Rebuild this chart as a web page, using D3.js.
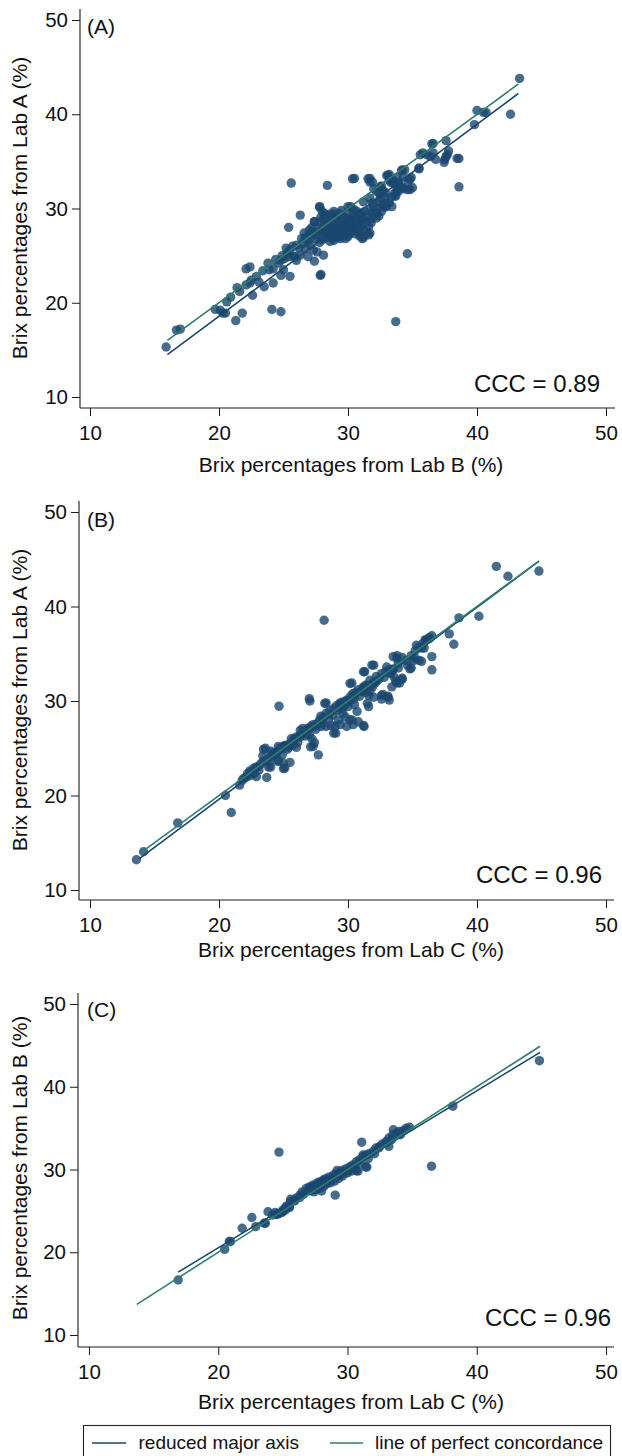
<!DOCTYPE html>
<html>
<head>
<meta charset="utf-8">
<script src="https://cdn.jsdelivr.net/npm/d3@7"></script>
<style>
  html, body { margin: 0; padding: 0; background: #fff; }
  svg { display: block; }
  text { font-family: "Liberation Sans", Arial, Helvetica, sans-serif; fill: #111; }
</style>
</head>
<body>
<svg id="chart" width="622" height="1456"></svg>
<script>
// ---------------- DATA ----------------
const tickValues = [10, 20, 30, 40, 50];
const panelLabels = ["(A)", "(B)", "(C)"];
const xTitles = ["Brix percentages from Lab B (%)", "Brix percentages from Lab C (%)", "Brix percentages from Lab C (%)"];
const yTitles = ["Brix percentages from Lab A (%)", "Brix percentages from Lab A (%)", "Brix percentages from Lab B (%)"];
const cccLabels = ["CCC = 0.89", "CCC = 0.96", "CCC = 0.96"];
const legendLabels = ["reduced major axis", "line of perfect concordance"];

// Panel A: x = Lab B, y = Lab A
const pointsA = [
[15.9,15.3],[16.7,17.1],[17.0,17.2],
[19.7,19.3],[20.1,19.2],[20.3,18.9],[20.5,18.9],
[21.3,18.1],[21.8,18.9],[20.9,20.6],[21.6,21.2],
[22.1,21.9],[22.4,22.1],[22.1,23.6],[22.4,23.8],
[22.6,20.8],[23.1,22.2],[23.5,21.7],[23.9,23.5],[24.2,23.6],[24.2,22.1],
[24.1,19.3],[24.8,19.05],[24.8,22.9],[25.5,22.8],
[24.6,24.2],[24.8,24.5],[25.1,24.7],[25.4,24.9],[25.5,25.6],[25.2,25.8],[25.8,24.9],[26.0,24.5],[25.0,23.5],
[25.4,28.0],[25.6,32.7],[26.3,29.3],
[26.8,27.0],[27.0,27.7],[27.4,28.6],[27.2,27.4],[26.9,26.5],
[27.3,25.6],[27.6,25.4],[27.4,24.4],[27.9,23.0],[27.8,30.2],
[28.0,29.7],[28.3,29.3],
[27.8,28.6],[28.2,28.2],[28.6,28.0],[28.9,28.2],[29.3,28.4],[29.7,28.6],[30.1,28.8],[30.5,29.1],[30.9,29.3],[31.3,29.7],[31.7,29.8],[32.0,30.2],
[28.0,27.4],[28.6,27.0],[28.9,26.6],[29.5,27.2],[29.9,27.4],[30.4,27.8],[30.8,27.6],[31.2,27.8],[31.6,28.1],
[28.6,28.8],[29.1,29.1],[29.5,29.3],[29.9,29.5],[28.9,29.7],[29.5,29.8],[30.2,30.2],
[28.7,27.7],[29.2,27.9],[29.6,27.7],[30.2,27.9],[30.7,28.2],
[31.2,26.9],[31.7,27.4],
[31.1,28.8],[31.4,28.6],[31.8,28.9],
[32.2,29.5],[32.6,29.7],[33.0,30.2],[33.2,30.6],[32.7,30.4],
[30.5,33.2],[31.7,33.2],[31.9,32.8],[32.5,32.3],[32.7,31.9],
[33.2,33.6],[33.5,33.0],[33.9,32.7],[34.0,32.3],[34.4,34.1],[34.7,32.9],[34.8,32.0],[33.9,31.8],[33.7,31.3],[32.2,31.8],[32.5,31.1],[31.2,30.7],[31.7,31.1],
[34.6,25.2],[33.7,18.0],
[43.3,43.8],[40.0,40.4],[40.5,40.2],[40.7,40.2],[42.6,40.0],[39.8,38.9],[37.6,37.2],[36.6,36.9],
[35.6,35.7],[35.8,35.9],[36.1,35.7],[36.4,35.5],[36.6,35.9],[36.8,35.2],[37.5,35.2],[37.8,36.1],[37.7,35.7],[38.6,35.3],[35.5,34.3],[34.2,34.1],[38.6,32.3],
[33.1,33.5],[33.8,33.3],[34.3,33.3],[34.8,33.1],[35.0,32.2],[34.3,32.1],[33.8,32.2],[33.3,32.8],[32.6,32.4],[32.9,31.7],[33.6,31.6],
[28.2,27.5],[28.5,27.3],[28.8,27.8],[29.0,27.4],[29.3,27.0],[29.6,27.6],[29.9,28.0],[30.2,28.4],[30.5,28.1],[28.4,28.5],[29.2,28.9],[29.8,29.0],[30.4,29.4],[30.0,27.0],[29.4,26.8],[28.7,26.9],[27.6,27.2],[27.9,27.7],[27.3,27.5],[27.1,26.9],[28.0,26.7],[30.8,28.7],[31.0,29.5],[29.1,28.1],[28.4,28.0],[29.7,28.3],[30.3,27.6],[31.2,28.9],[27.7,28.0],[28.9,29.4],
[26.0,26.1],[26.5,26.3],[26.2,25.8],[26.7,26.8],[25.9,24.85],[26.3,25.05],[26.7,25.75],[27.1,26.1],[26.9,24.9],[28.1,25.05],[27.85,22.9],
[28.15,29.45],[28.3,29.2],[28.4,32.45],[27.4,28.6],[27.8,30.15],
[30.0,30.2],[30.45,29.9],[31.1,26.8],[31.6,27.2],[31.55,33.15],[31.7,32.8],[32.0,32.1],[32.45,31.6],[32.0,29.45],[32.4,29.2],[32.8,30.15],[32.9,30.5],[33.4,30.2],[33.0,33.5],[33.2,33.0],[33.5,32.7],[33.6,31.4],[33.8,31.9],[34.2,32.3],[34.15,34.0],[34.6,32.0],[34.9,33.3],[35.5,34.2],[36.5,36.85],[37.45,34.9],[37.6,35.5],[38.45,35.3],[30.35,33.15],
[27.5,26.8],[27.8,26.4],[28.3,26.9],[28.6,26.5],[29.0,26.9],[29.3,27.5],[29.8,26.8],[30.1,27.3],[30.6,27.3],[30.9,27.1],[31.4,27.6],[31.0,28.2],[30.6,28.6],[30.0,28.6],[29.5,28.1],[29.0,28.4],[28.5,28.7],[28.1,28.9],[27.9,29.1],[28.6,29.4],[29.3,29.5],[30.7,29.7],[31.5,29.2],[31.9,29.6],[32.3,30.0],[29.1,27.0],[29.7,27.1],[28.3,27.8],[30.9,28.0],[31.8,28.5],[27.2,28.0],[26.6,27.4],[26.4,26.8],[25.7,26.0],[25.3,25.3],[24.9,25.0],[24.4,24.6],[23.8,24.2],[23.4,23.4],[22.9,22.8],[22.5,22.4],[21.4,21.6],[20.6,20.1],[32.4,30.8],[32.9,31.2],[33.3,31.1],[31.9,30.6],[32.2,29.0]
];
// Panel B: x = Lab C, y = Lab A
const pointsB = [
[13.6,13.2],[14.15,14.05],[16.8,17.1],[20.5,20.0],[20.95,18.2],
[21.6,21.1],[21.8,21.6],[22.1,21.9],[22.4,22.1],[22.7,22.3],[22.9,22.0],[22.5,22.5],[22.2,22.3],[21.9,21.8],
[23.45,24.9],[23.7,21.9],[23.85,23.0],[23.9,23.5],[24.15,24.3],[24.5,24.6],[24.55,23.6],[24.65,29.45],[25.0,22.85],
[24.6,25.2],[25.1,25.3],[25.4,25.1],[25.7,25.3],[26.0,25.1],
[25.85,26.0],[26.3,26.2],[26.6,26.6],[26.9,26.9],
[27.0,30.25],[27.2,26.0],[27.1,25.15],[27.7,24.3],[28.2,29.75],[28.15,38.55],
[28.9,26.6],[29.25,28.0],[29.8,28.3],[30.15,28.0],[30.4,27.5],[30.8,27.8],[31.2,27.4],[29.0,27.3],[29.4,27.5],[29.9,27.3],[30.3,28.0],[29.05,26.6],[30.7,28.9],[30.0,29.4],
[29.4,29.7],[29.9,30.0],[30.2,30.1],[30.5,30.3],
[31.0,31.0],[31.2,31.4],[31.5,31.6],[31.8,31.7],[32.0,32.0],[32.2,32.1],
[31.2,33.1],[30.15,31.85],[31.85,33.8],[31.25,27.3],[31.5,29.75],[32.6,30.6],[33.1,30.4],
[32.9,33.1],[33.2,33.3],[33.5,33.4],[33.5,34.7],[33.8,34.5],
[33.7,32.1],[34.0,31.9],[34.2,32.4],[34.8,33.4],[35.1,34.3],[35.5,34.3],
[35.2,35.3],[35.5,35.7],[35.8,36.1],[36.0,36.4],[36.3,36.7],[36.5,36.9],
[36.5,34.7],[36.5,33.3],[37.85,37.1],[38.2,36.0],[38.6,38.8],[40.15,38.97],[41.5,44.25],[42.4,43.2],[44.8,43.75],
[36.0,36.5],[35.3,35.9],[35.7,35.6],[36.3,36.6],[35.2,34.5],[35.7,34.2],[34.9,33.5],
[33.8,34.8],[34.2,34.6],[33.9,34.0],[33.5,33.3],[33.0,33.6],[33.3,32.9],[33.6,32.5],[34.2,32.3],[33.8,31.9],[33.4,31.5],[33.1,30.5],[32.7,30.7],
[32.0,33.8],[31.3,33.1],[30.3,31.9],[31.6,30.6],[32.0,30.4],[31.6,29.4],[32.6,30.2],[33.2,30.1],[27.05,30.0],[28.3,29.8],
[27.3,25.2],[27.4,25.6],[23.6,25.0],[24.0,24.7],[23.4,24.2],[22.9,23.0],[24.0,23.0],[25.1,22.9],[24.6,23.7],[25.0,23.4],[25.5,23.5],
[26.3,26.9],[26.5,27.1],[26.9,27.1],[27.4,27.3],[27.9,27.3],[28.3,27.3],[28.7,27.4],
[32.2,32.6],[32.6,32.9],[31.7,32.2],[32.1,31.9],[31.4,31.7],[31.2,31.5],[30.8,31.2],[30.4,30.8],[30.2,30.5],[29.9,30.1],[29.6,29.9],[29.4,29.8],[29.1,29.5],[28.9,29.2],[28.6,29.0],[28.3,28.7],[28.1,28.3],[27.8,28.0],[27.6,27.6],[27.3,27.5],[27.1,27.3],[26.8,26.9],[26.5,26.6],[26.3,26.4],[26.0,26.2],[25.8,25.9],[25.5,25.5],[25.2,25.3],[25.0,25.2],[24.7,25.0],[24.5,24.6],[24.2,24.5],[24.0,24.1],[23.7,23.8],[23.4,23.6],[23.2,23.3],[22.9,23.0],[22.7,22.9],
[29.2,29.0],[28.8,28.5],[30.6,30.9],[31.9,31.5],[27.9,28.4],[26.7,26.3],[25.6,26.0],[29.7,29.5],
[28.5,28.1],[29.5,29.2],[30.0,29.9],[30.9,30.5],[31.4,30.9],[32.4,32.3],[32.8,32.5],[33.3,33.0],[34.5,34.3],[34.9,34.8],[35.9,35.6],[27.5,27.0],[28.0,27.6],[26.1,25.6],[25.3,24.9],[23.1,22.7],[22.4,22.6],[29.6,28.7],[30.5,29.6],[31.7,31.0],[27.0,26.4],[24.9,24.3],[33.9,33.5],[34.6,33.8]
];
// Panel C: x = Lab C, y = Lab B
const pointsC = [
[16.9,16.65],[20.5,20.35],[20.95,21.3],[20.85,21.3],[21.85,22.9],[22.6,24.2],[22.9,23.1],[23.65,23.5],[23.55,23.5],[23.85,24.9],
[24.6,24.6],[24.9,24.8],[25.0,25.1],[25.2,25.4],[24.7,32.1],
[25.5,25.5],[25.6,26.4],[25.9,26.2],[26.3,26.6],
[24.2,24.5],[24.5,24.6],[24.7,24.7],[25.0,24.9],[25.2,25.1],[25.5,25.4],[25.6,26.1],[25.9,26.3],[26.3,26.9],[26.5,27.3],[26.8,27.7],[27.05,27.9],[27.3,28.1],[27.6,28.3],[27.8,28.5],[28.1,28.7],[28.3,28.9],[28.6,29.1],[28.9,29.3],[29.1,29.5],[29.4,29.7],[29.6,29.9],[29.9,30.1],[30.2,30.35],[30.4,30.55],[30.7,30.95],[30.9,31.15],[31.2,31.55],[31.45,31.75],[31.7,31.95],[32.0,32.2],[32.2,32.6],[32.5,32.8],[32.7,33.1],[33.0,33.4],[33.2,33.8],[33.5,34.2],[33.8,34.4],[34.0,34.6],[34.3,34.7],[34.55,35.0],[34.8,35.1],
[27.0,27.4],[27.3,27.5],[27.6,27.6],[27.9,27.8],[28.2,28.0],[27.4,27.3],[28.0,27.4],[27.7,28.0],[28.4,28.3],[28.7,28.4],[29.0,28.6],[29.3,28.9],[29.6,29.2],[30.0,29.6],[30.3,29.8],[30.6,30.1],[29.2,29.9],[28.5,28.8],
[29.05,26.9],[31.1,33.3],[31.5,30.3],[30.7,29.85],[31.2,31.75],[33.0,33.2],[33.2,32.8],[33.55,34.8],[32.4,32.6],[36.5,30.4],[38.15,37.65],[44.85,43.15],[31.4,30.3],[30.8,29.8],
[27.2,27.8],[27.5,28.0],[27.9,28.2],[28.3,28.4],[28.8,28.9],[29.4,29.3],[29.8,29.6],[30.1,29.9],[30.5,30.3],[31.0,30.8],[31.6,31.3],[32.1,31.9],[33.4,33.6],[34.1,34.2],[26.0,26.5],[26.6,27.0],[25.3,25.6],[24.4,24.8],[28.0,28.5],[29.5,29.5]
];

// Fitted lines: [[x0,y0],[x1,y1]]
const rmaA = [[16.0, 14.5], [43.2, 42.2]];
const pcA  = [[16.0, 16.0], [43.2, 43.2]];
const rmaB = [[13.8, 13.3], [44.8, 44.8]];
const pcB  = [[14.0, 14.0], [44.8, 44.8]];
const rmaC = [[16.9, 17.6], [44.9, 44.15]];
const pcC  = [[13.7, 13.7], [44.9, 44.9]];

// ---------------- LAYOUT ----------------
const colors = { point: "#1a476f", rma: "#1a476f", pc: "#2f7f6b", axis: "#1a1a1a" };
const panels = [
  { pts: pointsA, rma: rmaA, pc: pcA, x0: 90, x1: 606, y50: 20, y10: 397, axY: 408, axX: 80, top: 9, right: 615,
    titleY: 472, yTitleCy: 208, labelBase: 34, cccX: 600, cccY: 392 },
  { pts: pointsB, rma: rmaB, pc: pcB, x0: 90, x1: 606, y50: 512, y10: 890, axY: 900, axX: 79, top: 501, right: 614,
    titleY: 957, yTitleCy: 700, labelBase: 527, cccX: 602, cccY: 883 },
  { pts: pointsC, rma: rmaC, pc: pcC, x0: 89, x1: 606, y50: 1004, y10: 1335, axY: 1347, axX: 78, top: 993, right: 614,
    titleY: 1409, yTitleCy: 1168, labelBase: 1017, cccX: 611, cccY: 1326 }
];

const svg = d3.select("#chart");
const FONT = "Liberation Sans, Arial, sans-serif";

panels.forEach((p, i) => {
  const x = d3.scaleLinear().domain([10, 50]).range([p.x0, p.x1]);
  const y = d3.scaleLinear().domain([10, 50]).range([p.y10, p.y50]);
  const g = svg.append("g");

  g.append("line").attr("x1", p.axX).attr("x2", p.axX).attr("y1", p.top).attr("y2", p.axY)
    .attr("stroke", colors.axis).attr("stroke-width", 1.1);
  g.append("line").attr("x1", p.axX).attr("x2", p.right).attr("y1", p.axY).attr("y2", p.axY)
    .attr("stroke", colors.axis).attr("stroke-width", 1.1);

  const xAxis = d3.axisBottom(x).tickValues(tickValues).tickSize(8).tickPadding(9).tickSizeOuter(0);
  const gx = g.append("g").attr("transform", `translate(0,${p.axY})`).call(xAxis);
  gx.select(".domain").remove();
  gx.selectAll("line").attr("stroke", colors.axis);
  gx.selectAll("text").attr("font-size", 20.5).attr("font-family", FONT).attr("fill", "#111");

  const yAxis = d3.axisLeft(y).tickValues(tickValues).tickSize(8).tickPadding(4).tickSizeOuter(0);
  const gy = g.append("g").attr("transform", `translate(${p.axX},0)`).call(yAxis);
  gy.select(".domain").remove();
  gy.selectAll("line").attr("stroke", colors.axis);
  gy.selectAll("text").attr("font-size", 20.5).attr("font-family", FONT).attr("fill", "#111");

  g.append("g").selectAll("circle").data(p.pts).join("circle")
    .attr("cx", d => x(d[0])).attr("cy", d => y(d[1])).attr("r", 4.7)
    .attr("fill", colors.point).attr("fill-opacity", 0.8);

  const lineGen = d3.line().x(d => x(d[0])).y(d => y(d[1]));
  g.append("path").attr("d", lineGen(p.rma)).attr("fill", "none")
    .attr("stroke", colors.rma).attr("stroke-width", 1.6);
  g.append("path").attr("d", lineGen(p.pc)).attr("fill", "none")
    .attr("stroke", colors.pc).attr("stroke-width", 1.6);

  g.append("text").attr("x", 87).attr("y", p.labelBase).attr("font-size", 21).text(panelLabels[i]);
  g.append("text").attr("x", p.cccX).attr("y", p.cccY).attr("text-anchor", "end").attr("font-size", 24).text(cccLabels[i]);
  g.append("text").attr("x", 351).attr("y", p.titleY).attr("text-anchor", "middle").attr("font-size", 21).text(xTitles[i]);
  g.append("text").attr("transform", `translate(27,${p.yTitleCy}) rotate(-90)`)
    .attr("text-anchor", "middle").attr("font-size", 21).text(yTitles[i]);
});

// legend
const lg = svg.append("g");
lg.append("rect").attr("x", 83.5).attr("y", 1425.5).attr("width", 527).attr("height", 60)
  .attr("fill", "#fff").attr("stroke", "#222").attr("stroke-width", 1.1);
lg.append("line").attr("x1", 92).attr("x2", 126).attr("y1", 1443).attr("y2", 1443)
  .attr("stroke", colors.rma).attr("stroke-width", 1.6);
lg.append("text").attr("x", 138.5).attr("y", 1449).attr("font-size", 19).text(legendLabels[0]);
lg.append("line").attr("x1", 330).attr("x2", 363).attr("y1", 1443).attr("y2", 1443)
  .attr("stroke", colors.pc).attr("stroke-width", 1.6);
lg.append("text").attr("x", 375).attr("y", 1449).attr("font-size", 19).text(legendLabels[1]);
</script>
</body>
</html>
